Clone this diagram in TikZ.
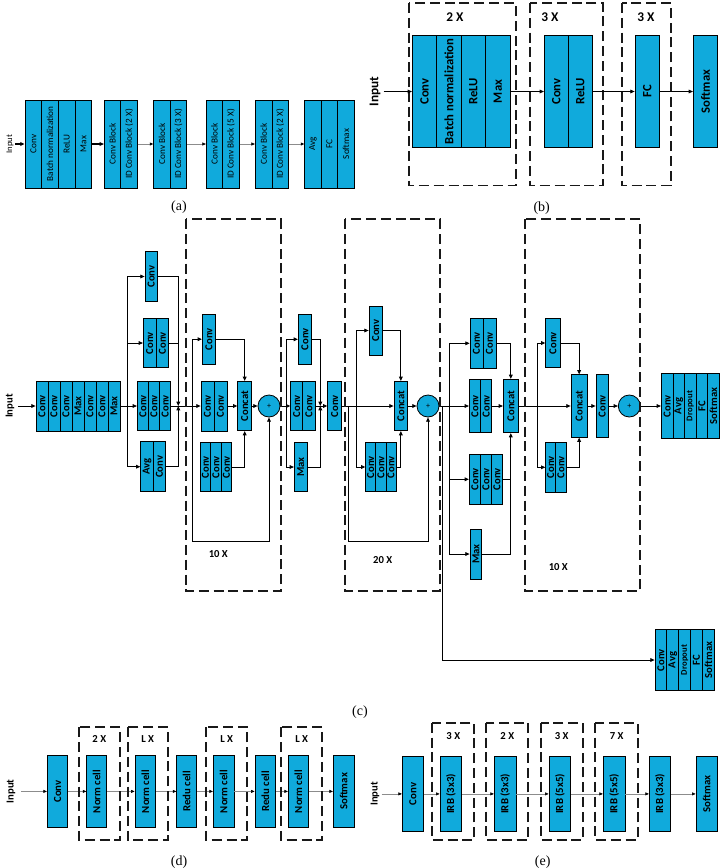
\documentclass[tikz,border=0pt]{standalone}
\usepackage{fontspec}
\setmainfont{Liberation Serif}
\newfontfamily\blkfont{Carlito}
\usetikzlibrary{arrows.meta}

\definecolor{netblue}{RGB}{16,170,220}

\tikzset{
  cell/.style={draw=black, fill=netblue, inner sep=0pt, line width=0.6pt},
  sum/.style={circle, draw=black, fill=netblue, inner sep=0pt, minimum size=16.5pt, line width=0.6pt, font=\blkfont\fontsize{6}{6}\selectfont},
  rep/.style={draw=black!90, line width=1.35pt, dash pattern=on 7.5pt off 3.6pt},
  flow/.style={draw=black, line width=0.6pt, -{Triangle[length=3.2pt,width=2.8pt]}},
  link/.style={draw=black, line width=0.6pt},
  faint/.style={draw=black!45, line width=0.45pt, -{Triangle[length=2.6pt,width=2.2pt,color=black]}},
  caption/.style={font=\fontsize{10.5}{11}\selectfont},
  times/.style={font=\blkfont\bfseries\fontsize{8}{9}\selectfont},
  inlabel/.style={inner sep=1pt, font=\blkfont\bfseries\fontsize{8}{9}\selectfont}
}

% a row of block columns: name, left x, centre y, column width, height, texts
\newcommand{\stack}[6]{%
  \foreach \txt [count=\k] in {#6}
    \node[cell, minimum width=#4*0.75pt, minimum height=#5*0.75pt]
      (#1-\k) at ({#2+#4*(\k-0.5)}, #3) {\rotatebox{90}{\txt}};}
% one block: name, left x, centre y, width, height, text
\newcommand{\blk}[6]{%
  \node[cell, minimum width=#4*0.75pt, minimum height=#5*0.75pt]
    (#1) at ({#2+#4/2}, #3) {\rotatebox{90}{#6}};}
\newcommand{\sm}[1]{{\fontsize{6.5}{7}\selectfont #1}}

\begin{document}
\begin{tikzpicture}[
            x=0.75pt,
            y=0.75pt,
            yscale=-1,
            xscale=1,
            line width=0.75pt
        ]
\useasboundingbox (0,0) rectangle (723,868);

% (a)
\begin{scope}[cell/.append style={font=\blkfont\fontsize{6.9}{8}\selectfont}]
\stack{a1}{25}{144}{16.7}{88}{Conv,Batch normalization,ReLU,Max}
\stack{a2}{104.3}{144}{16.5}{88}{Conv Block,ID Conv Block (2 X)}
\stack{a3}{153.7}{144}{16.5}{88}{Conv Block,ID Conv Block (3 X)}
\stack{a4}{206.3}{144}{16.4}{88}{Conv Block,ID Conv Block (5 X)}
\stack{a5}{255.3}{144}{16.6}{88}{Conv Block,ID Conv Block (2 X)}
\stack{a6}{304.7}{144}{16.5}{88}{Avg,FC,Softmax}
\end{scope}
\node[inner sep=1pt, font=\blkfont\fontsize{6.5}{7}\selectfont] (ina) at (10,144) {\rotatebox{90}{Input}};
\draw[flow, line width=0.9pt] (ina) -- (a1-1.west);
\draw[flow, line width=0.9pt] (a1-4.east) -- (a2-1.west);
\draw[faint] (a2-2.east) -- (a3-1.west);
\draw[faint] (a3-2.east) -- (a4-1.west);
\draw[faint] (a4-2.east) -- (a5-1.west);
\draw[faint] (a5-2.east) -- (a6-1.west);
\node[caption] (capa) at (179,207) {(a)};

% (b)
\begin{scope}[cell/.append style={font=\blkfont\bfseries\fontsize{9.5}{10}\selectfont}]
\stack{b1}{412.3}{91.5}{24.4}{111.6}{Conv,Batch normalization,ReLU,Max}
\stack{b2}{544.3}{91.5}{24}{111.6}{Conv,ReLU}
\blk{b3}{635}{91.5}{24.3}{111.6}{FC}
\blk{b4}{693.3}{91.5}{24.4}{111.6}{Softmax}
\end{scope}
\draw[rep] (409,3) rectangle (515.7,185.5);
\draw[rep] (530,3) rectangle (602.7,185.5);
\draw[rep] (621.7,3) rectangle (671,185.5);
\node[times, font=\blkfont\bfseries\fontsize{10}{11}\selectfont] (nb1) at (455,17.3) {2 X};
\node[times, font=\blkfont\bfseries\fontsize{10}{11}\selectfont] (nb2) at (550,17.3) {3 X};
\node[times, font=\blkfont\bfseries\fontsize{10}{11}\selectfont] (nb3) at (646,17.3) {3 X};
\node[inlabel, font=\blkfont\bfseries\fontsize{10}{11}\selectfont] (inb) at (375,91.5) {\rotatebox{90}{Input}};
\draw[flow] (inb) ++(8.5,0) -- (b1-1.west);
\draw[flow] (b1-4.east) -- (b2-1.west);
\draw[flow] (b2-2.east) -- (b3.west);
\draw[flow] (b3.east) -- (b4.west);
\node[caption] (capb) at (541.7,208.3) {(b)};

% (c)
\begin{scope}[cell/.append style={font=\blkfont\bfseries\fontsize{8}{9}\selectfont}]
\node[inlabel] (inc) at (10,406) {\rotatebox{90}{Input}};
\stack{s}{36}{406}{12}{50}{Conv,Conv,Conv,Max,Conv,Conv,Max}
\draw[flow] (inc) ++(8,0) -- (s-1.west);

% first branch module
\coordinate (j1) at (127.7,406);
\blk{c1}{145}{276.5}{12.3}{49.3}{Conv}
\stack{c2}{143.3}{343}{12.7}{49.4}{Conv,Conv}
\stack{c3}{137.3}{406}{11.1}{49.3}{Conv,Conv,Conv}
\stack{c4}{140.7}{466.7}{12.5}{50}{Avg,Conv}
\coordinate (m1) at (178.3,406);
\draw[link] (s-7.east) -- (j1);
\draw[flow] (j1) |- (c1.west);
\draw[flow] (j1) |- (c2-1.west);
\draw[flow] (j1) -- (c3-1.west);
\draw[flow] (j1) |- (c4-1.west);
\draw[flow] (c1.east) -| (m1);
\draw[link] (c2-2.east) -- (c2-2.east -| m1);
\draw[flow] (c4-2.east) -| (m1);
\draw[link] (c3-3.east) -- (m1);

% repeated block 1
\coordinate (j2) at (192.3,406);
\blk{e1}{202.3}{339.2}{13.4}{49.7}{Conv}
\stack{e2}{201}{406}{13}{50}{Conv,Conv}
\stack{e3}{200}{467}{10.6}{49.4}{Conv,Conv,Conv}
\blk{e4}{237.7}{406}{14}{49.3}{Concat}
\node[sum] (e5) at (269,406) {+};
\coordinate (r1) at (192.3,541.7);
\draw[flow] (m1) -- (e2-1.west);
\draw[flow] (j2) |- (e1.west);
\draw[flow] (e1.east) -| (e4.north);
\draw[flow] (e2-2.east) -- (e4.west);
\draw[flow] (e3-3.east) -| (e4.south);
\draw[flow] (e4.east) -- (e5.west);
\draw[flow] (j2) -- (r1) -| (e5.south);

% reduction A
\coordinate (j3) at (286,406);
\blk{f1}{298.3}{339.3}{13.4}{50}{Conv}
\stack{f2}{290.7}{406}{12.15}{49.3}{Conv,Conv}
\blk{f3}{294.3}{467}{13}{49.4}{Max}
\coordinate (m2) at (320.3,406);
\blk{f4}{327.7}{406}{14}{49.3}{Conv}
\draw[flow] (e5.east) -- (f2-1.west);
\draw[flow] (j3) |- (f1.west);
\draw[flow] (j3) |- (f3.west);
\draw[flow] (f1.east) -| (m2);
\draw[flow] (f3.east) -| (m2);
\draw[link] (f2-2.east) -- (m2);
\draw[flow] (m2) -- (f4.west);

% repeated block 2
\coordinate (j4) at (348,406);
\coordinate (j5) at (356.7,406);
\blk{g1}{369}{330.5}{13.3}{49}{Conv}
\stack{g2}{365.7}{467}{10.1}{49.4}{Conv,Conv,Conv}
\blk{g3}{394}{406}{13.7}{49.3}{Concat}
\node[sum] (g4) at (428,406) {+};
\coordinate (r2) at (348,541.7);
\draw[flow] (f4.east) -- (g3.west);
\draw[flow] (j5) |- (g1.west);
\draw[flow] (j5) |- (g2-1.west);
\draw[flow] (g1.east) -| (g3.north);
\draw[flow] (g2-3.east) -| (g3.south);
\draw[flow] (g3.east) -- (g4.west);
\draw[flow] (j4) -- (r2) -| (g4.south);

% reduction B
\coordinate (j6) at (442.7,406);
\coordinate (j7) at (449.3,406);
\stack{h1}{470}{343.3}{13}{50}{Conv,Conv}
\stack{h2}{469.3}{406}{11.2}{53.4}{Conv,Conv}
\stack{h3}{469.3}{479.3}{11}{50}{Conv,Conv,Conv}
\blk{h4}{470}{554}{11.7}{50}{Max}
\blk{h5}{503.3}{406}{15}{53.4}{Concat}
\draw[flow] (g4.east) -- (h2-1.west);
\draw[flow] (j7) |- (h1-1.west);
\draw[flow] (j7) |- (h3-1.west);
\draw[flow] (j7) |- (h4.west);
\draw[flow] (h1-2.east) -| (h5.north);
\draw[link] (h3-3.east) -- (h3-3.east -| h5);
\draw[flow] (h4.east) -| (h5.south);
\draw[flow] (h2-2.east) -- (h5.west);

% side output
\stack{o2}{655}{660}{11.86}{61}{Conv,Avg,\sm{Dropout},FC,Softmax}
\draw[flow] (j6) |- (o2-1.west);

% repeated block 3
\coordinate (j8) at (537.3,406);
\blk{k1}{545.7}{343}{14.3}{49.4}{Conv}
\stack{k2}{545.7}{467.3}{10.15}{50}{Conv,Conv}
\blk{k3}{571}{406}{16.3}{62.4}{Concat}
\blk{k4}{596}{406}{12.3}{62.4}{Conv}
\node[sum] (k5) at (629.3,406) {+};
\stack{o1}{661.3}{406}{11.6}{64.4}{Conv,Avg,\sm{Dropout},FC,Softmax}
\draw[flow] (h5.east) -- (k3.west);
\draw[flow] (j8) |- (k1.west);
\draw[flow] (j8) |- (k2-1.west);
\draw[flow] (k1.east) -| (k3.north);
\draw[flow] (k2-2.east) -| (k3.south);
\draw[flow] (k3.east) -- (k4.west);
\draw[flow] (k4.east) -- (k5.west);
\draw[flow] (k5.east) -- (o1-1.west);
\end{scope}
\draw[rep] (185.7,219.3) rectangle (280.7,591);
\draw[rep] (344.7,219.3) rectangle (440,591);
\draw[rep] (525,219.3) rectangle (640,591);
\node[times] (nc1) at (218.3,554) {10 X};
\node[times] (nc2) at (382.7,560) {20 X};
\node[times] (nc3) at (558.3,566.7) {10 X};
\node[caption] (capc) at (360,711.7) {(c)};

% (d)
\begin{scope}[cell/.append style={font=\blkfont\bfseries\fontsize{8.1}{9}\selectfont}]
\blk{dc}{47.3}{791.4}{20.4}{72.7}{Conv}
\blk{dn1}{86.7}{791.4}{20}{72.7}{Norm cell}
\blk{dn2}{135}{791.4}{20.7}{72.7}{Norm cell}
\blk{dr1}{176.7}{791.4}{20}{72.7}{Redu cell}
\blk{dn3}{213.3}{791.4}{20.7}{72.7}{Norm cell}
\blk{dr2}{255}{791.4}{20.7}{72.7}{Redu cell}
\blk{dn4}{288.3}{791.4}{20}{72.7}{Norm cell}
\blk{ds}{333.3}{791.4}{20.7}{72.7}{Softmax}
\end{scope}
\node[inlabel] (ind) at (11,791.4) {\rotatebox{90}{Input}};
\draw[faint] (ind) ++(10,0) -- (dc.west);
\draw[faint] (dc.east) -- (dn1.west);
\draw[faint] (dn1.east) -- (dn2.west);
\draw[faint] (dn2.east) -- (dr1.west);
\draw[faint] (dr1.east) -- (dn3.west);
\draw[faint] (dn3.east) -- (dr2.west);
\draw[faint] (dr2.east) -- (dn4.west);
\draw[faint] (dn4.east) -- (ds.west);
\draw[rep] (79,727.3) rectangle (120,840);
\draw[rep] (127.7,727.3) rectangle (168.3,840);
\draw[rep] (206,727.3) rectangle (247.3,840);
\draw[rep] (281,727.3) rectangle (322,840);
\node[times] (nd1) at (99.3,739.3) {2 X};
\node[times] (nd2) at (147.7,739.3) {L X};
\node[times] (nd3) at (226.7,739.3) {L X};
\node[times] (nd4) at (301.7,739.3) {L X};
\node[caption] (capd) at (179,861.7) {(d)};

% (e)
\begin{scope}[cell/.append style={font=\blkfont\bfseries\fontsize{8.1}{9}\selectfont}]
\blk{ec}{402.3}{793.9}{21}{75.7}{Conv}
\blk{ei1}{440}{793.9}{21.7}{75.7}{IRB (3x3)}
\blk{ei2}{494.3}{793.9}{21.7}{75.7}{IRB (3x3)}
\blk{ei3}{549}{793.9}{21.7}{75.7}{IRB (5x5)}
\blk{ei4}{603.3}{793.9}{21.7}{75.7}{IRB (5x5)}
\blk{ei5}{649.3}{793.9}{21.4}{75.7}{IRB (3x3)}
\blk{es}{696}{793.9}{21.3}{75.7}{Softmax}
\end{scope}
\node[inlabel] (ine) at (375,793.9) {\rotatebox{90}{Input}};
\draw[faint] (ine) ++(6.5,0) -- (ec.west);
\draw[faint] (ec.east) -- (ei1.west);
\draw[faint] (ei1.east) -- (ei2.west);
\draw[faint] (ei2.east) -- (ei3.west);
\draw[faint] (ei3.east) -- (ei4.west);
\draw[faint] (ei4.east) -- (ei5.west);
\draw[faint] (ei5.east) -- (es.west);
\draw[rep] (431.7,722.7) rectangle (474.3,840);
\draw[rep] (486,722.7) rectangle (528.3,840);
\draw[rep] (540.7,722.7) rectangle (582.7,840);
\draw[rep] (595,722.7) rectangle (637.7,840);
\node[times] (ne1) at (453.3,735.7) {3 X};
\node[times] (ne2) at (507.3,735.7) {2 X};
\node[times] (ne3) at (561.7,735.7) {3 X};
\node[times] (ne4) at (616.7,735.7) {7 X};
\node[caption] (cape) at (542.7,861.7) {(e)};
\end{tikzpicture}
\end{document}
